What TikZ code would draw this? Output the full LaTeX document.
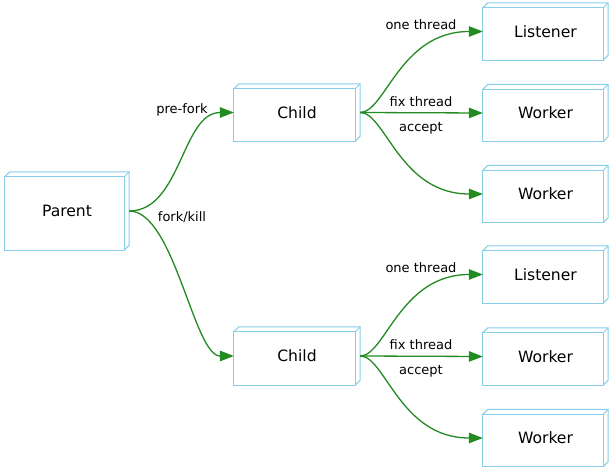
\documentclass[tikz,border=0pt]{standalone}
\usepackage{fontspec}
\setmainfont{DejaVu Sans}
\usetikzlibrary{arrows.meta}
\definecolor{boxblue}{RGB}{135,206,235}
\definecolor{arrowgreen}{RGB}{34,139,34}
\tikzset{
 cube/.style={minimum height=57pt, minimum width=125pt, inner sep=0pt, font=\fontsize{15.6}{18}\selectfont},
 boxline/.style={draw=boxblue, line width=1pt},
 link/.style={draw=arrowgreen, line width=1.3pt, -{Triangle[length=14pt,width=10.5pt]}},
 lbl/.style={font=\fontsize{13}{15}\selectfont, text=black, inner sep=0pt},
}
\begin{document}
\begin{tikzpicture}[x=1pt,y=-1pt]
\useasboundingbox[fill=white] (0,0) rectangle (613,473);
\node[cube, minimum width=124pt, minimum height=78pt] (parent) at (67,211) {Parent};
\node[cube, minimum width=126pt] (child1) at (297,112.5) {Child};
\node[cube, minimum width=126pt, minimum height=58pt] (child2) at (297,356) {Child};
\node[cube] (listener1) at (545.5,31.5) {Listener};
\node[cube] (worker1) at (545.5,113) {Worker};
\node[cube] (worker2) at (545.5,194) {Worker};
\node[cube] (listener2) at (545.5,274.5) {Listener};
\node[cube] (worker3) at (545.5,356.5) {Worker};
\node[cube] (worker4) at (545.5,438) {Worker};
\foreach \n in {parent,child1,child2,listener1,worker1,worker2,listener2,worker3,worker4}{
  \draw[boxline] (\n.south west) rectangle ([shift={(-5pt,-5pt)}]\n.north east);
  \draw[boxline] ([yshift=-5pt]\n.north west) -- ([xshift=5pt]\n.north west) -- (\n.north east) -- ([yshift=5pt]\n.south east) -- ([xshift=-5pt]\n.south east);
  \draw[boxline] ([shift={(-5pt,-5pt)}]\n.north east) -- (\n.north east);
}
% parent to children
\draw[link] (parent.east) .. controls +(52,0) and +(-52,0) .. (child1.west)
  node[lbl] at (182,110) {pre-fork};
\draw[link] (parent.east) .. controls +(45,0) and +(-40,0) .. (child2.west)
  node[lbl] at (182,217) {fork/kill};
% child1
\draw[link] (child1.east) .. controls +(25,0) and +(-83,0) .. (listener1.west)
  node[lbl] at (421,25) {one thread};
\draw[link] (child1.east) -- (worker1.west)
  node[lbl] at (421,102) {fix thread};
\draw[link] (child1.east) .. controls +(25,0) and +(-83,0) .. (worker2.west)
  node[lbl] at (421,128) {accept};
% child2
\draw[link] (child2.east) .. controls +(25,0) and +(-83,0) .. (listener2.west)
  node[lbl] at (421,268) {one thread};
\draw[link] (child2.east) -- (worker3.west)
  node[lbl] at (421,345) {fix thread};
\draw[link] (child2.east) .. controls +(25,0) and +(-83,0) .. (worker4.west)
  node[lbl] at (421,371) {accept};
\end{tikzpicture}
\end{document}
